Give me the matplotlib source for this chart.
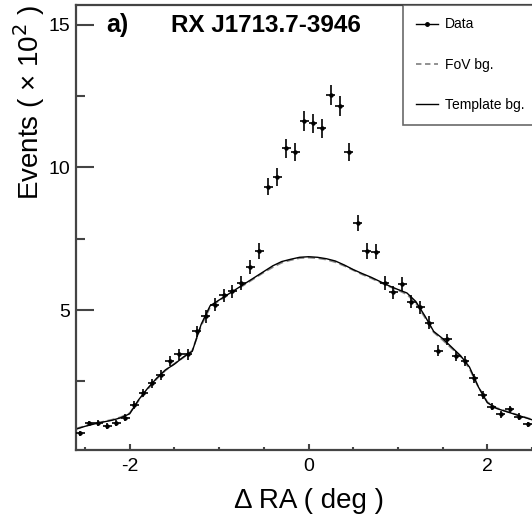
import matplotlib

matplotlib.use("Agg")

import numpy as np
import matplotlib.pyplot as plt
from matplotlib.lines import Line2D
from matplotlib.ticker import MultipleLocator

plt.rcParams["font.family"] = ["Liberation Sans", "DejaVu Sans"]
plt.rcParams["axes.unicode_minus"] = False

# Data histogram (units of 10^2 events), bin width 0.1 deg
ra_data = [-2.55, -2.45, -2.35, -2.25, -2.15, -2.05, -1.95, -1.85, -1.75, -1.65,
           -1.55, -1.45, -1.35, -1.25, -1.15, -1.05, -0.95, -0.85, -0.75, -0.65,
           -0.55, -0.45, -0.35, -0.25, -0.15, -0.05, 0.05, 0.15, 0.25, 0.35,
           0.45, 0.55, 0.65, 0.75, 0.85, 0.95, 1.05, 1.15, 1.25, 1.35,
           1.45, 1.55, 1.65, 1.75, 1.85, 1.95, 2.05, 2.15, 2.25, 2.35,
           2.45, 2.55]
events = [0.67, 1.02, 1.05, 0.93, 1.05, 1.23, 1.67, 2.10, 2.43, 2.72,
          3.22, 3.45, 3.45, 4.25, 4.78, 5.18, 5.52, 5.65, 5.96, 6.51,
          7.07, 9.33, 9.66, 10.67, 10.55, 11.63, 11.55, 11.37, 12.54, 12.17,
          10.55, 8.04, 7.07, 7.05, 5.96, 5.62, 5.90, 5.29, 5.09, 4.56,
          3.57, 3.97, 3.39, 3.22, 2.60, 2.02, 1.61, 1.34, 1.52, 1.26,
          0.99, 0.90]

# Background models
ra_bg = [-2.6, -2.5, -2.4, -2.3, -2.2, -2.1, -2.0, -1.9, -1.8, -1.7,
         -1.6, -1.5, -1.4, -1.3, -1.2, -1.1, -1.0, -0.9, -0.8, -0.7,
         -0.6, -0.5, -0.4, -0.3, -0.2, -0.1, 0.0, 0.1, 0.2, 0.3,
         0.4, 0.5, 0.6, 0.7, 0.8, 0.9, 1.0, 1.1, 1.2, 1.3,
         1.4, 1.5, 1.6, 1.7, 1.8, 1.9, 2.0, 2.1, 2.2, 2.3,
         2.4, 2.5, 2.6]
template_bg = [0.82, 0.92, 1.00, 1.07, 1.13, 1.22, 1.36, 1.85, 2.25, 2.60,
               2.90, 3.10, 3.35, 3.55, 4.50, 5.15, 5.35, 5.55, 5.75, 5.95,
               6.15, 6.35, 6.55, 6.70, 6.78, 6.85, 6.87, 6.85, 6.80, 6.72,
               6.58, 6.42, 6.28, 6.15, 6.00, 5.85, 5.72, 5.60, 5.30, 4.80,
               4.25, 4.00, 3.70, 3.40, 3.00, 2.30, 1.75, 1.55, 1.45, 1.35,
               1.25, 1.15, 1.08]
fov_bg = [0.84, 0.93, 1.02, 1.08, 1.15, 1.24, 1.38, 1.82, 2.22, 2.58,
          2.88, 3.12, 3.33, 3.58, 4.45, 5.10, 5.33, 5.52, 5.72, 5.92,
          6.12, 6.32, 6.50, 6.66, 6.75, 6.82, 6.84, 6.82, 6.77, 6.68,
          6.55, 6.40, 6.25, 6.12, 5.97, 5.83, 5.70, 5.55, 5.25, 4.75,
          4.22, 3.95, 3.66, 3.38, 2.95, 2.30, 1.77, 1.57, 1.46, 1.36,
          1.26, 1.16, 1.09]

fig = plt.figure(figsize=(5.32, 5.16), dpi=100)
ax = fig.add_axes([76 / 532, 66 / 516, 465 / 532, 445 / 516])

# Poisson errors (counts in units of 100)
yerr = np.sqrt(np.array(events) * 100) / 100
ax.errorbar(ra_data, events, yerr=yerr, xerr=0.05, fmt="o", ms=2.2,
            color="black", ecolor="black", elinewidth=1.2, capsize=0, zorder=3)
ax.plot(ra_bg, fov_bg, color="#888888", ls=(0, (4, 2)), lw=1.3, zorder=2)
ax.plot(ra_bg, template_bg, color="black", lw=1.0, zorder=2)

ax.set_xlim(-2.6, 2.6)
ax.set_ylim(0.09, 15.7)
ax.xaxis.set_major_locator(MultipleLocator(2))
ax.xaxis.set_minor_locator(MultipleLocator(0.5))
ax.yaxis.set_major_locator(MultipleLocator(5))
ax.yaxis.set_minor_locator(MultipleLocator(2.5))
ax.tick_params(axis="both", which="both", direction="in", color="#444444",
               width=1.5, top=False, right=False)
ax.tick_params(axis="y", which="major", length=13, labelsize=14, pad=4)
ax.tick_params(axis="y", which="minor", length=6.5)
ax.tick_params(axis="x", which="major", length=4, labelsize=14, pad=6)
ax.tick_params(axis="x", which="minor", length=2.5)
for sp in ax.spines.values():
    sp.set_color("#444444")
    sp.set_linewidth(1.6)

ax.set_xlabel("Δ RA ( deg )", fontsize=20, labelpad=9)
ax.set_ylabel("Events ( × 10$^2$ )", fontsize=20, loc="top", labelpad=1)

ax.text(0.066, 0.955, "a)", transform=ax.transAxes, fontsize=18,
        fontweight="bold", va="center")
ax.text(0.205, 0.955, "RX J1713.7-3946", transform=ax.transAxes, fontsize=17.5,
        fontweight="bold", va="center")

handles = [
    Line2D([], [], color="black", lw=1.0, marker="o", ms=2.5),
    Line2D([], [], color="#888888", lw=1.3, ls=(0, (3, 2))),
    Line2D([], [], color="black", lw=1.0),
]
leg = ax.legend(handles, ["Data", "FoV bg.", "Template bg."],
                bbox_to_anchor=(327 / 465, 0.725, 0.3, 0.275), loc="upper left",
                mode="expand", fontsize=10, handlelength=1.6, handletextpad=0.5,
                labelspacing=1.9, borderpad=0.9, borderaxespad=0,
                fancybox=False, frameon=True)
leg.get_frame().set_edgecolor("#444444")
leg.get_frame().set_linewidth(1.2)

fig.savefig("out.png", dpi=100)
